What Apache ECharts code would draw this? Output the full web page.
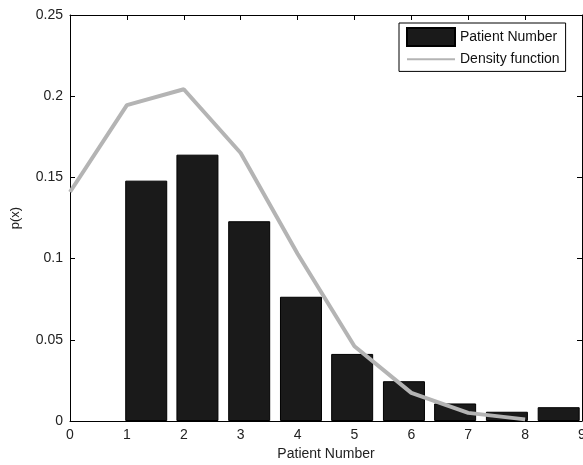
<!DOCTYPE html>
<html>
<head>
<meta charset="utf-8">
<script src="https://cdn.jsdelivr.net/npm/echarts@6/dist/echarts.min.js"></script>
<style>
    html, body { margin: 0; padding: 0; background: #fff; }
    #chart { width: 583px; height: 465px; }
</style>
</head>
<body>
<div id="chart"></div>
<script>
// bar centres and heights
var barX = [1.34, 2.24, 3.15, 4.06, 4.96, 5.87, 6.77, 7.68, 8.59];
var barY = [0.148, 0.164, 0.123, 0.0765, 0.0413, 0.0245, 0.0108, 0.0057, 0.0085];

// density curve points
var lineX = [0, 1, 2, 3, 4, 5, 6, 7, 8];
var lineY = [0.141, 0.1945, 0.2043, 0.165, 0.103, 0.046, 0.0173, 0.005, 0.001];

var xTicks = [0, 1, 2, 3, 4, 5, 6, 7, 8, 9];

var barData = barX.map(function (x, i) { return [x, barY[i]]; });
var lineData = lineX.map(function (x, i) { return [x, lineY[i]]; });

var font = 'Liberation Sans, Arial, sans-serif';

var chart = echarts.init(document.getElementById('chart'));

var option = {
    animation: false,
    backgroundColor: '#fff',
    grid: { left: 70, right: 1, top: 15, bottom: 44, outerBoundsMode: 'none' },
    legend: {
        orient: 'vertical',
        left: 399,
        top: 23,
        width: 181,
        padding: [4, 6, 5, 7],
        itemWidth: 48,
        itemHeight: 18,
        itemGap: 5,
        backgroundColor: '#fff',
        borderColor: '#000',
        borderWidth: 1,
        textStyle: { fontFamily: font, fontSize: 14, color: '#111' },
        data: [
            { name: 'Patient Number', icon: 'rect' },
            { name: 'Density function', itemStyle: { opacity: 0 } }
        ]
    },
    xAxis: [{
        type: 'value',
        min: 0,
        max: 9,
        interval: 1,
        name: 'Patient Number',
        nameLocation: 'middle',
        nameGap: 26,
        nameTextStyle: { fontFamily: font, fontSize: 14, color: '#222' },
        axisLine: { show: true, lineStyle: { color: '#000', width: 1 } },
        axisTick: { inside: true, length: 5, lineStyle: { color: '#000' } },
        axisLabel: {
            fontFamily: font, fontSize: 14, color: '#222', margin: 7,
            formatter: function (v) { return xTicks.indexOf(v) >= 0 ? String(v) : ''; }
        },
        splitLine: { show: false }
    }, {
        type: 'value',
        position: 'top',
        min: 0,
        max: 9,
        interval: 1,
        axisLine: { show: true, onZero: false, lineStyle: { color: '#000', width: 1 } },
        axisTick: { show: true, inside: true, length: 5, lineStyle: { color: '#000' } },
        axisLabel: { show: false },
        splitLine: { show: false }
    }],
    yAxis: [{
        type: 'value',
        min: 0,
        max: 0.25,
        interval: 0.05,
        name: 'p(x)',
        nameLocation: 'middle',
        nameGap: 48,
        nameRotate: 90,
        nameTextStyle: { fontFamily: font, fontSize: 13, color: '#222' },
        axisLine: { show: true, lineStyle: { color: '#000', width: 1 } },
        axisTick: { show: true, inside: true, length: 5, lineStyle: { color: '#000' } },
        axisLabel: { fontFamily: font, fontSize: 14, color: '#222', margin: 7 },
        splitLine: { show: false }
    }, {
        type: 'value',
        position: 'right',
        min: 0,
        max: 0.25,
        interval: 0.05,
        axisLine: { show: true, onZero: false, lineStyle: { color: '#000', width: 1 } },
        axisTick: { show: true, inside: true, length: 5, lineStyle: { color: '#000' } },
        axisLabel: { show: false },
        splitLine: { show: false }
    }],
    series: [
        {
            name: 'Patient Number',
            type: 'bar',
            barWidth: 42,
            itemStyle: { color: '#1a1a1a', borderColor: '#000', borderWidth: 1 },
            data: barData
        },
        {
            name: 'Density function',
            type: 'line',
            symbol: 'none',
            smooth: false,
            lineStyle: { color: '#b4b4b4', width: 4 },
            itemStyle: { color: '#b4b4b4' },
            data: lineData,
            z: 3
        }
    ]
};

chart.setOption(option);
</script>
</body>
</html>
